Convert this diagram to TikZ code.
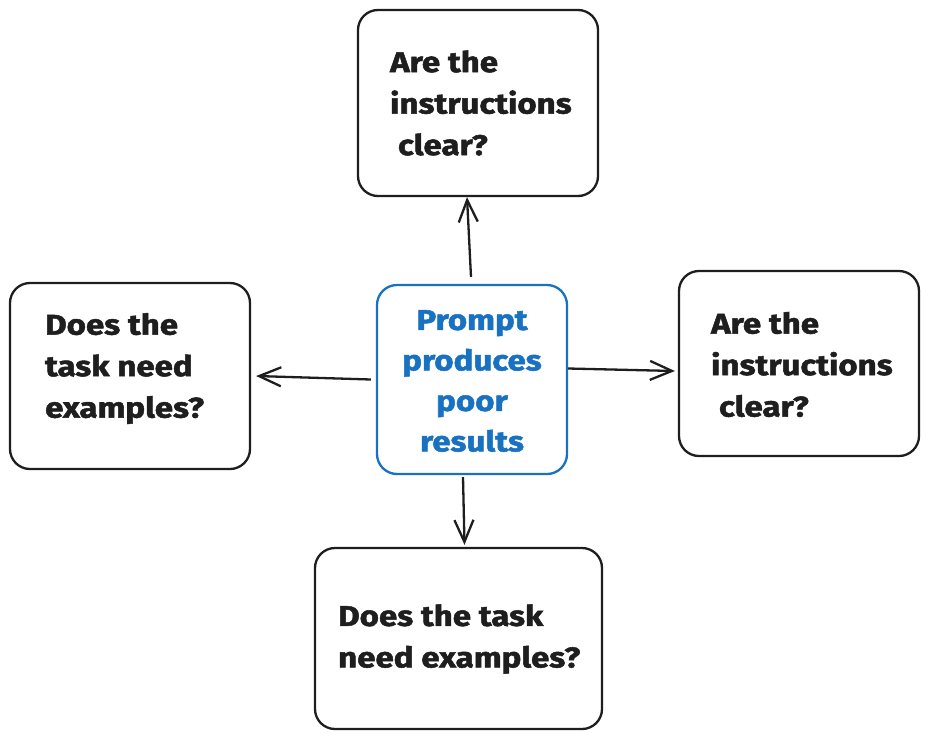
\documentclass[tikz,border=0pt]{standalone}
\usepackage{fontspec}
\setmainfont{Fira Sans}[BoldFeatures={FakeBold=1.8, FakeStretch=1.16}]
\usepackage{xcolor}
\usetikzlibrary{arrows.meta, positioning}
\definecolor{inkblack}{HTML}{1E1E1E}
\definecolor{inkblue}{HTML}{1971C2}
\tikzset{
  question/.style={rectangle, rounded corners=20pt, draw=inkblack, line width=2.3pt,
    align=left, font=\bfseries\fontsize{28.5}{41.5}\selectfont, text=inkblack,
    inner sep=0pt},
  problem/.style={rectangle, rounded corners=20pt, draw=inkblue, line width=2.3pt,
    align=center, font=\bfseries\fontsize{28.5}{40.5}\selectfont, text=inkblue,
    inner sep=0pt, minimum width=190pt, minimum height=189pt},
  arrow/.style={draw=inkblack, line width=2.3pt, -{Straight Barb[length=22pt, width=19pt, line width=2.3pt]}}
}
\begin{document}
\begin{tikzpicture}[x=1pt, y=-1pt]
  \useasboundingbox (0,0) rectangle (929,739);

  % --- Nodes ---
  \node (main) [problem] at (472,379.5) {};
  \node (top) [question, minimum width=240pt, minimum height=186pt] at (478,103) {};
  \node (left) [question, minimum width=240pt, minimum height=186pt] at (130,376) {};
  \node (right) [question, minimum width=240pt, minimum height=185pt] at (799,363.5) {};
  \node (bottom) [question, minimum width=287pt, minimum height=181pt] at (458.5,638.5) {};

  % --- Texts ---
  \node [problem, draw=none, minimum width=0pt, minimum height=0pt] at (472,381) {Prompt\\produces\\poor\\results};
  \node [question, draw=none, anchor=west] at (389,103) {Are the\\instructions\\\ clear?};
  \node [question, draw=none, anchor=west] at (44,368.5) {Does the\\task need\\examples?};
  \node [question, draw=none, anchor=west] at (710,364.5) {Are the\\instructions\\\ clear?};
  \node [question, draw=none, anchor=west] at (337,639) {Does the task\\need examples?};

  % --- Connectors ---
  \draw [arrow] ([xshift=-1pt, yshift=7pt]main.north) -- ([xshift=-11pt]top.south);
  \draw [arrow] ([xshift=-5pt]main.west) -- ([xshift=5pt]left.east);
  \draw [arrow] ([yshift=11pt]main.east) -- ([xshift=-3pt, yshift=-7.5pt]right.west);
  \draw [arrow] ([xshift=-9pt, yshift=-2pt]main.south) -- ([xshift=6pt, yshift=2pt]bottom.north);
\end{tikzpicture}
\end{document}
